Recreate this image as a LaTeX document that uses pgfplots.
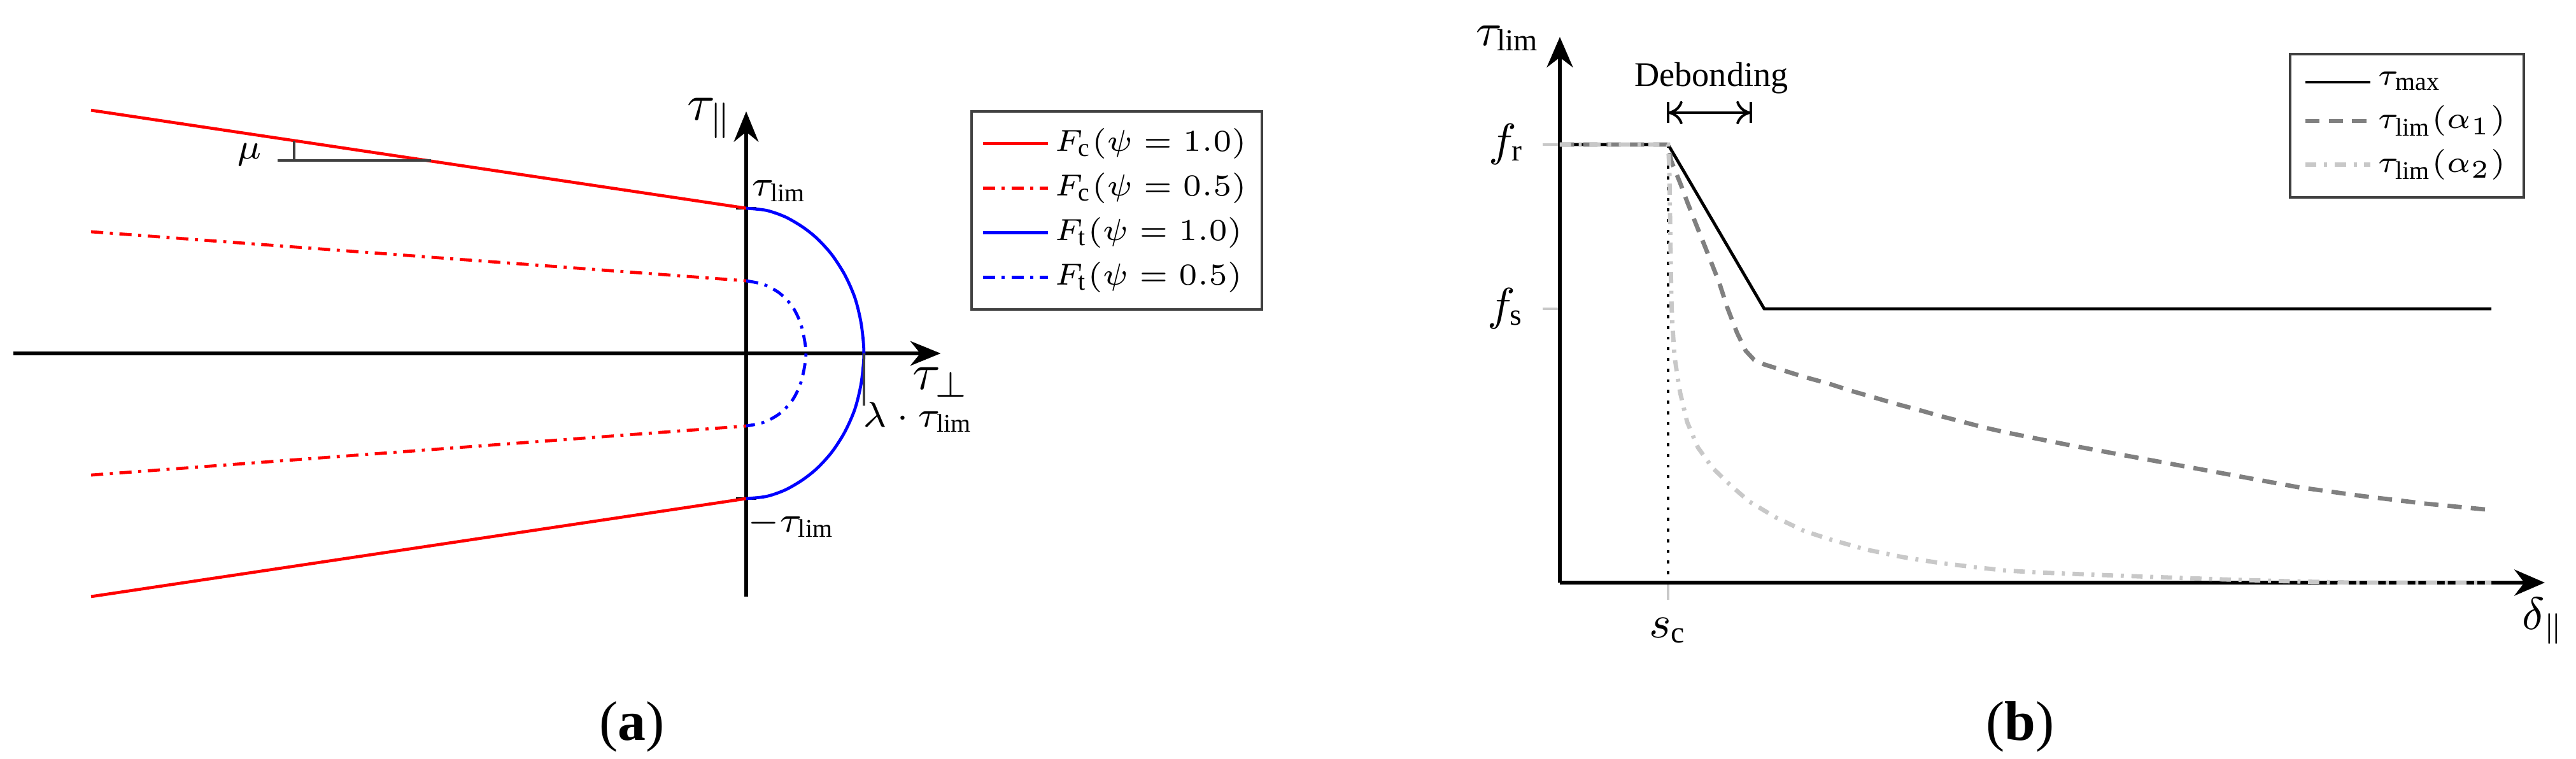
\documentclass[border=0pt]{standalone}
\usepackage{fontspec}
\setmainfont{Liberation Serif}
\usepackage{pgfplots}
\pgfplotsset{compat=1.18}
\usetikzlibrary{arrows.meta}
\newcommand{\fs}[1]{\fontsize{#1}{#1}\selectfont}
\definecolor{gA}{RGB}{128,128,128}
\definecolor{gB}{RGB}{200,200,200}
\tikzset{
  ddot/.style={dash pattern=on 2.4pt off 1.3pt on 0.6pt off 1.3pt},
  ddotb/.style={dash pattern=on 2.2pt off 1.5pt on 0.6pt off 1.5pt},
  dsh/.style={dash pattern=on 2.8pt off 1.8pt},
}
\begin{document}
\begin{tikzpicture}
\useasboundingbox (0,0) rectangle (17.824,5.2467);

% ---------------- (a) ----------------
\begin{axis}[
  at={(5.1630cm,2.8018cm)}, anchor=origin,
  x=1.00441cm, y=1.00441cm,
  xmin=-5.05, xmax=1.34, ymin=-1.675, ymax=1.667,
  axis lines=middle,
  every inner x axis line/.append style={-{Stealth[length=2.1mm,width=1.7mm]}},
  every inner y axis line/.append style={-{Stealth[length=2.1mm,width=1.7mm]}},
  axis line style={line width=0.75pt},
  xtick=\empty, ytick={-1,1}, yticklabels={{},{}},
  tick align=center, major tick length=0.14cm,
  tick style={black, line width=0.5pt},
  clip=false,
  legend style={at={(1.0316,1.0026)}, anchor=north west, draw=black!75, line width=0.5pt,
    font=\fs{6}, inner xsep=2pt, inner ysep=2.3pt, row sep=0.8pt, nodes={inner sep=1pt}},
  legend cell align=left,
  legend image code/.code={\draw[#1] plot coordinates {(0cm,0cm) (0.45cm,0cm)};},
]
\addplot[red, line width=0.6pt] coordinates {(-4.513,1.675) (0,1)};
\addlegendentry{$F_\mathrm{c}(\psi=1.0)$}
\addplot[red, line width=0.6pt, forget plot] coordinates {(-4.513,-1.675) (0,-1)};
\addplot[red, line width=0.6pt, ddot] coordinates {(-4.513,0.838) (0,0.5)};
\addlegendentry{$F_\mathrm{c}(\psi=0.5)$}
\addplot[red, line width=0.6pt, ddot, forget plot] coordinates {(-4.513,-0.838) (0,-0.5)};
\addplot[blue, line width=0.6pt, smooth] coordinates {(0,1) (0.14,0.985) (0.27,0.94) (0.39,0.87) (0.49,0.79) (0.59,0.68) (0.68,0.54) (0.75,0.38) (0.793,0.20) (0.811,0) (0.793,-0.20) (0.75,-0.38) (0.68,-0.54) (0.59,-0.68) (0.49,-0.79) (0.39,-0.87) (0.27,-0.94) (0.14,-0.985) (0,-1)};
\addlegendentry{$F_\mathrm{t}(\psi=1.0)$}
\addplot[blue, line width=0.6pt, ddot, smooth] coordinates {(0,0.5) (0.12,0.475) (0.23,0.415) (0.32,0.32) (0.38,0.19) (0.412,0) (0.38,-0.19) (0.32,-0.32) (0.23,-0.415) (0.12,-0.475) (0,-0.5)};
\addlegendentry{$F_\mathrm{t}(\psi=0.5)$}
% annotations
\addplot[black!75, line width=0.45pt, forget plot] coordinates {(-3.228,1.329) (-2.171,1.329)};
\addplot[black!75, line width=0.45pt, forget plot] coordinates {(-3.114,1.329) (-3.114,1.467)};
\addplot[black!75, line width=0.45pt, forget plot] coordinates {(0.811,0) (0.811,-0.36)};
\node[font=\fs{10}] at (axis cs:-0.25,1.62) {$\tau_\parallel$};
\node[font=\fs{10}] at (axis cs:1.34,-0.20) {$\tau_\perp$};
\node[font=\fs{7}] at (axis cs:0.228,1.118) {$\tau_\mathrm{lim}$};
\node[font=\fs{7}] at (axis cs:0.311,-1.171) {$-\tau_\mathrm{lim}$};
\node[font=\fs{7}, anchor=west, inner sep=0pt] at (axis cs:0.80,-0.44) {$\lambda\cdot\tau_\mathrm{lim}$};
\node[font=\fs{7}] at (axis cs:-3.42,1.368) {$\mu$};
\end{axis}

% ---------------- (b) ----------------
\begin{axis}[
  at={(10.7930cm,1.2159cm)}, anchor=origin,
  x=0.44053cm, y=0.44053cm,
  xmin=0, xmax=15.47, ymin=0, ymax=8.57,
  axis lines=left,
  every outer x axis line/.append style={-{Stealth[length=2.1mm,width=1.8mm]}},
  every outer y axis line/.append style={-{Stealth[length=2.1mm,width=1.8mm]}},
  axis line style={line width=0.85pt},
  xtick={1.70}, xticklabels={$s_\mathrm{c}$},
  ytick={4.30,6.88}, yticklabels={$f_\mathrm{s}$,$f_\mathrm{r}$},
  tick align=outside, major tick length=0.12cm,
  tick style={gB, line width=0.4pt},
  tick label style={font=\fs{9}},
  clip=false,
  legend style={at={(0.740,0.971)}, anchor=north west, draw=black!75, line width=0.5pt,
    font=\fs{6}, inner xsep=2.6pt, inner ysep=2.5pt, row sep=0.6pt, nodes={inner sep=1pt}},
  legend cell align=left,
  legend image code/.code={\draw[#1] plot coordinates {(0cm,0cm) (0.45cm,0cm)};},
]
\addplot[black, line width=0.5pt, dash pattern=on 0.6pt off 1.5pt, forget plot] coordinates {(1.70,6.88) (1.70,0.12)};
\addplot[black, line width=0.6pt] coordinates {(0,6.88) (1.70,6.88) (3.21,4.30) (14.63,4.30)};
\addlegendentry{$\tau_\mathrm{max}$}
\addplot[gA, line width=0.85pt, dsh] coordinates {(0,6.88) (1.70,6.88) (1.75,6.62) (1.90,6.25) (2.00,5.98) (2.17,5.55) (2.33,5.15) (2.50,4.72) (2.63,4.32) (2.78,3.93) (2.92,3.64) (3.05,3.50) (3.20,3.43) (3.55,3.32) (3.84,3.23) (4.24,3.12) (4.58,3.01) (4.93,2.91) (5.27,2.81) (5.68,2.70) (5.96,2.62) (6.31,2.53) (6.65,2.44) (7.00,2.36) (7.40,2.28) (8.00,2.16) (8.70,2.03) (9.30,1.92) (10.5,1.70) (11.59,1.50) (12.6,1.36) (13.6,1.24) (14.63,1.14)};
\addlegendentry{$\tau_\mathrm{lim}(\alpha_1)$}
\addplot[gB, line width=0.85pt, ddotb] coordinates {(0,6.88) (1.70,6.88) (1.72,6.50) (1.735,5.50) (1.75,4.50) (1.765,4.10) (1.80,3.56) (1.85,3.22) (1.89,2.98) (2.00,2.52) (2.17,2.12) (2.40,1.80) (2.69,1.52) (2.98,1.27) (3.38,1.03) (3.84,0.81) (4.24,0.68) (4.81,0.52) (5.39,0.40) (5.96,0.31) (6.54,0.24) (7.00,0.19) (7.50,0.16) (8.50,0.12) (9.30,0.09) (10.44,0.05) (11.5,0.02) (12.5,0.0) (14.63,0.0)};
\addlegendentry{$\tau_\mathrm{lim}(\alpha_2)$}
% debonding annotation
\addplot[black, line width=0.5pt, arrows={To[length=1mm,width=1.6mm]-To[length=1mm,width=1.6mm]}, forget plot] coordinates {(1.70,7.38) (3.00,7.38)};
\addplot[black, line width=0.5pt, forget plot] coordinates {(1.70,7.22) (1.70,7.55)};
\addplot[black, line width=0.5pt, forget plot] coordinates {(3.00,7.22) (3.00,7.55)};
\node[font=\fs{6.8}] at (axis cs:2.38,7.92) {Debonding};
\node[font=\fs{9}] at (axis cs:-0.81,8.55) {$\tau_\mathrm{lim}$};
\node[font=\fs{9}] at (axis cs:15.45,-0.60) {$\delta_\parallel$};
\end{axis}

\node[font=\fs{11}] at (4.374,0.220) {(\textbf{a})};
\node[font=\fs{11}] at (13.978,0.220) {(\textbf{b})};
\end{tikzpicture}
\end{document}
